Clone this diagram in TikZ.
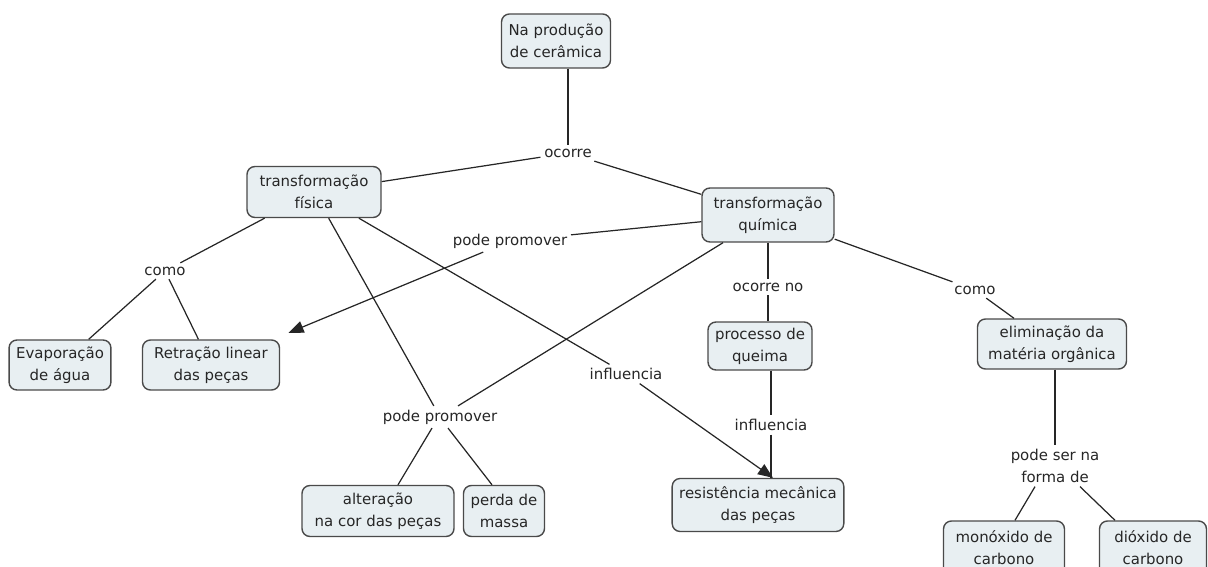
\documentclass[tikz,border=0pt]{standalone}
\usepackage{fontspec}
\setmainfont{DejaVu Sans}
\usetikzlibrary{arrows.meta}
\definecolor{boxfill}{HTML}{E8EFF2}
\definecolor{ink}{HTML}{262626}
\definecolor{edge}{HTML}{4A4A4A}
\begin{document}
\begin{tikzpicture}[x=0.02cm,y=-0.02cm,
  txt/.style={font=\fontsize{8.5}{12.5}\selectfont, text=ink, align=center},
  concept/.style={txt, draw=edge, line width=0.8pt, fill=boxfill,
    rounded corners=4.5pt, minimum height=1cm, inner ysep=0pt, inner xsep=4pt},
  linkword/.style={txt, inner sep=2pt},
  link/.style={draw=ink, line width=0.7pt},
  arrowlink/.style={link, -{Triangle[length=0.3cm, width=0.24cm]}}]
\useasboundingbox (0,0) rectangle (1208,567);
\clip (0,0) rectangle (1208,567);

% concepts
\node[concept, minimum width=2.14cm, minimum height=1.08cm] (prod) at (556,41) {Na produção\\de cerâmica};
\node[concept, minimum width=2.68cm, minimum height=1.02cm] (fis) at (314,192) {transformação\\física};
\node[concept, minimum width=2.64cm, minimum height=1.08cm] (qui) at (768,215) {transformação\\química};
\node[concept, minimum width=2.0cm] (evap) at (60,365) {Evaporação\\de água};
\node[concept, minimum width=2.74cm] (retr) at (211,365) {Retração linear\\das peças};
\node[concept, minimum width=1.92cm, minimum height=0.96cm] (queima) at (760,346) {processo de\\queima};
\node[concept, minimum width=2.98cm] (elim) at (1052,344) {eliminação da\\matéria orgânica};
\node[concept, minimum width=3.04cm, minimum height=1.02cm] (cor) at (378,511) {alteração\\na cor das peças};
\node[concept, minimum width=1.62cm, minimum height=1.02cm] (massa) at (504,511) {perda de\\massa};
\node[concept, minimum width=3.08cm, minimum height=1.06cm] (resist) at (758,505) {resistência mecânica\\das peças};
\node[concept, minimum width=2.42cm, minimum height=1.08cm] (mono) at (1004,548) {monóxido de\\carbono};
\node[concept, minimum width=2.14cm, minimum height=1.08cm] (dio) at (1153,548) {dióxido de\\carbono};

% linking phrases
\node[linkword] (ocorre) at (568,153) {ocorre};
\node[linkword] (como1) at (165,271) {como};
\node[linkword] (ppA) at (510,241) {pode promover};
\node[linkword] (ppB) at (440,417) {pode promover};
\node[linkword] (infA) at (626,374) {influencia};
\node[linkword] (ocno) at (768,287) {ocorre no};
\node[linkword] (infB) at (771,425) {influencia};
\node[linkword] (como2) at (975,290) {como};
\node[linkword] (forma) at (1055,466) {pode ser na\\forma de};

% connections
\draw[link] (prod.south -| ocorre) -- (ocorre);
\draw[link] (ocorre) -- (fis);
\draw[link] (ocorre) -- (qui);
\draw[link] (fis) -- (como1);
\draw[link] (como1) -- (evap);
\draw[link] (como1) -- (retr);
\draw[link] (qui) -- (ppA);
\draw[arrowlink, shorten >=0.34cm] (ppA) -- (retr);
\draw[link] (fis) -- (ppB);
\draw[link] (qui) -- (ppB);
\draw[link] ([xshift=-0.16cm]ppB.south) -- ([xshift=0.4cm]cor.north);
\draw[link] ([xshift=0.16cm]ppB.south) -- ([xshift=-0.24cm]massa.north);
\draw[link] (fis) -- (infA);
\draw[arrowlink] (infA) -- ([xshift=0.3cm]resist.north);
\draw[link] (qui) -- (ocno);
\draw[link] (ocno) -- (ocno |- queima.north);
\draw[link] (infB |- queima.south) -- (infB);
\draw[link] (infB) -- (infB |- resist.north);
\draw[link] (qui) -- (como2);
\draw[link] (como2) -- ([xshift=-0.76cm]elim.north);
\draw[link] (forma |- elim.south) -- (forma);
\draw[link] ([xshift=-0.4cm]forma.south) -- ([xshift=0.22cm]mono.north);
\draw[link] ([xshift=0.5cm]forma.south) -- ([xshift=-0.76cm]dio.north);
\end{tikzpicture}
\end{document}
